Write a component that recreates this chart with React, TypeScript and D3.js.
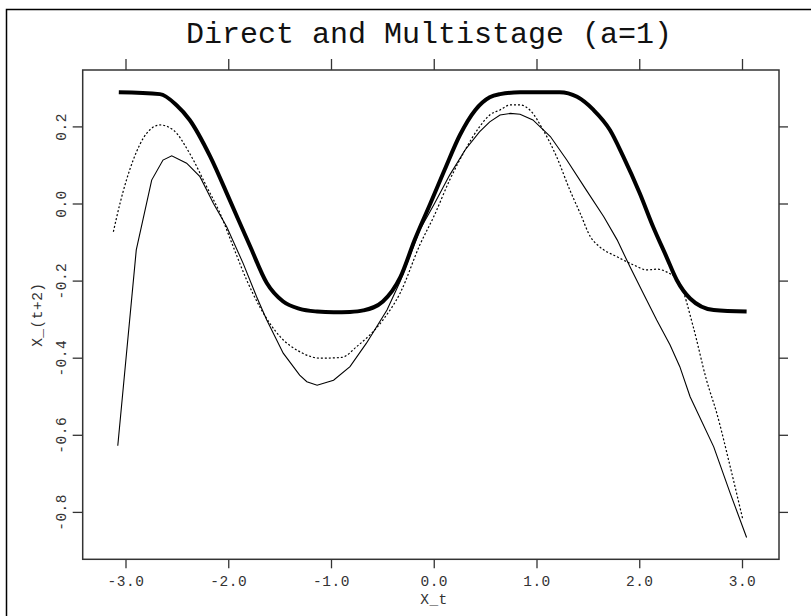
import * as d3 from "d3";

// x values are shared per series
const thickX = [-3.07, -2.67, -2.51, -2.38, -2.18, -1.99, -1.79, -1.63, -1.47, -1.31, -1.14, -0.98, -0.82, -0.69, -0.5, -0.33, -0.19, -0.04, 0.1, 0.25, 0.4, 0.54, 0.64, 0.835, 1.22, 1.39, 1.55, 1.71, 1.84, 2.0, 2.13, 2.26, 2.36, 2.49, 2.72, 3.04];
const thickY = [0.29, 0.285, 0.257, 0.218, 0.123, 0.01, -0.111, -0.205, -0.253, -0.272, -0.279, -0.281, -0.28, -0.276, -0.253, -0.19, -0.093, 0.0, 0.088, 0.179, 0.244, 0.277, 0.285, 0.29, 0.29, 0.278, 0.244, 0.192, 0.123, 0.028, -0.059, -0.137, -0.197, -0.245, -0.275, -0.279];

const dottedX = [-3.123, -3.058, -2.93, -2.8, -2.67, -2.54, -2.38, -2.215, -2.085, -1.956, -1.826, -1.7, -1.5, -1.31, -1.11, -0.9, -0.755, -0.5, -0.33, -0.14, 0, 0.15, 0.3, 0.44, 0.54, 0.64, 0.74, 0.835, 0.93, 1.06, 1.19, 1.32, 1.42, 1.52, 1.61, 1.78, 1.94, 2.07, 2.165, 2.26, 2.39, 2.52, 2.65, 2.75, 2.88, 3.0];
const dottedY = [-0.072, 0.002, 0.114, 0.183, 0.205, 0.192, 0.131, 0.045, -0.024, -0.111, -0.197, -0.266, -0.344, -0.383, -0.4, -0.398, -0.37, -0.301, -0.23, -0.106, -0.03, 0.062, 0.14, 0.2, 0.231, 0.244, 0.257, 0.257, 0.244, 0.192, 0.123, 0.036, -0.024, -0.085, -0.111, -0.137, -0.158, -0.171, -0.169, -0.176, -0.206, -0.318, -0.457, -0.543, -0.681, -0.815];

const thinX = [-3.08, -2.9, -2.75, -2.64, -2.555, -2.41, -2.28, -2.15, -2.02, -1.86, -1.73, -1.63, -1.47, -1.31, -1.24, -1.14, -0.98, -0.82, -0.66, -0.46, -0.33, -0.14, 0, 0.15, 0.3, 0.44, 0.54, 0.64, 0.74, 0.835, 0.96, 1.13, 1.29, 1.48, 1.65, 1.78, 1.905, 2.035, 2.165, 2.294, 2.39, 2.49, 2.72, 2.88, 3.04];
const thinY = [-0.627, -0.119, 0.062, 0.114, 0.125, 0.106, 0.071, 0.002, -0.059, -0.154, -0.24, -0.301, -0.387, -0.444, -0.461, -0.47, -0.457, -0.422, -0.361, -0.275, -0.2, -0.067, 0.0, 0.075, 0.14, 0.187, 0.213, 0.231, 0.235, 0.233, 0.218, 0.175, 0.114, 0.036, -0.033, -0.093, -0.163, -0.232, -0.301, -0.365, -0.422, -0.5, -0.63, -0.75, -0.865];

const xTicks = [-3, -2, -1, 0, 1, 2, 3];
const yTicks = [0.2, 0.0, -0.2, -0.4, -0.6, -0.8];

const W = 811;
const H = 616;
const box = { left: 82.7, right: 779, top: 70, bottom: 559.3 };
const mono = "'Liberation Mono', 'DejaVu Sans Mono', monospace";

export default function App() {
  const x = d3.scaleLinear().domain([-3, 3]).range([126, 742.5]);
  const y = d3.scaleLinear().domain([0, -0.2]).range([204, 281.1]);

  const pts = (xs: number[], ys: number[]) => xs.map((v, i) => [v, ys[i]] as [number, number]);
  const smooth = d3.line<[number, number]>().x((d) => x(d[0])).y((d) => y(d[1])).curve(d3.curveMonotoneX);
  const plain = d3.line<[number, number]>().x((d) => x(d[0])).y((d) => y(d[1]));

  const axisColor = "#333";
  const lab = { fontFamily: mono, fontSize: 14.5, fill: "#333", letterSpacing: 0.5 };

  return (
    <svg width={W} height={H} style={{ position: "absolute", left: 0, top: 0, background: "#fff" }}>
      <rect x={6.5} y={9.5} width={830} height={630} fill="none" stroke="#000" strokeWidth={1.5} />
      <text x={429} y={43} textAnchor="middle" fontFamily={mono} fontSize={30} fill="#111">
        Direct and Multistage (a=1)
      </text>

      <rect x={box.left} y={box.top} width={box.right - box.left} height={box.bottom - box.top} fill="none" stroke={axisColor} strokeWidth={1.5} />

      {xTicks.map((t) => (
        <g key={"x" + t}>
          <line x1={x(t)} x2={x(t)} y1={box.bottom} y2={box.bottom + 9} stroke={axisColor} strokeWidth={1.3} />
          <line x1={x(t)} x2={x(t)} y1={box.top} y2={box.top - 11} stroke={axisColor} strokeWidth={1.3} />
          <text x={x(t)} y={585.5} textAnchor="middle" {...lab}>
            {t.toFixed(1)}
          </text>
        </g>
      ))}
      <text x={434} y={604} textAnchor="middle" {...lab}>
        X_t
      </text>

      {yTicks.map((t) => (
        <g key={"y" + t}>
          <line x1={box.left} x2={box.left - 10} y1={y(t)} y2={y(t)} stroke={axisColor} strokeWidth={1.3} />
          <line x1={box.right} x2={box.right + 9} y1={y(t)} y2={y(t)} stroke={axisColor} strokeWidth={1.3} />
          <text transform={`translate(65.5,${y(t)}) rotate(-90)`} textAnchor="middle" {...lab}>
            {t.toFixed(1)}
          </text>
        </g>
      ))}
      <text transform={`translate(42,${(box.top + box.bottom) / 2}) rotate(-90)`} textAnchor="middle" {...lab}>
        X_(t+2)
      </text>

      <path d={plain(pts(thinX, thinY)) ?? ""} fill="none" stroke="#000" strokeWidth={1.1} />
      <path d={smooth(pts(dottedX, dottedY)) ?? ""} fill="none" stroke="#000" strokeWidth={1.2} strokeDasharray="2,2" />
      <path d={smooth(pts(thickX, thickY)) ?? ""} fill="none" stroke="#000" strokeWidth={4} strokeLinejoin="round" />
    </svg>
  );
}
